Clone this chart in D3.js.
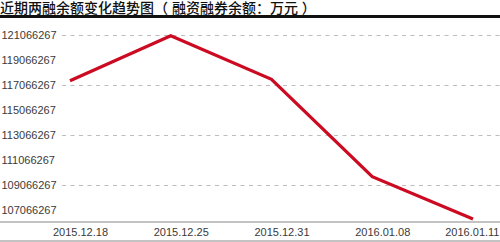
<!DOCTYPE html>
<html>
<head>
<meta charset="utf-8">
<script src="https://cdn.jsdelivr.net/npm/d3@7"></script>
<style>
  body { margin: 0; background: #fff; }
  text { font-family: "Liberation Sans", Arial, "Noto Sans CJK SC", sans-serif; }
</style>
</head>
<body>
<div id="chart"></div>
<script>
// data
var dates = ["2015.12.18", "2015.12.25", "2015.12.31", "2016.01.08", "2016.01.11"];
var balance = [117450000, 121050000, 117560000, 109770000, 106390000];
var yTicks = [121066267, 119066267, 117066267, 115066267, 113066267, 111066267, 109066267, 107066267];
var gridTicks = [121066267, 117066267, 113066267, 109066267];
var title = "近期两融余额变化趋势图（ 融资融券余额：万元 ）";

var width = 500, height = 242;

var svg = d3.select("#chart")
    .append("svg")
    .attr("width", width)
    .attr("height", height);

// title + thick rule below it
svg.append("text")
    .attr("x", 0)
    .attr("y", 12.5)
    .attr("font-size", 14)
    .attr("font-weight", 500)
    .attr("font-family", "'Noto Sans CJK SC', sans-serif")
    .attr("fill", "#111")
    .text(title);

svg.append("rect")
    .attr("x", 0)
    .attr("y", 15)
    .attr("width", width)
    .attr("height", 3)
    .attr("fill", "#111");

// scales
var x = d3.scalePoint()
    .domain(dates)
    .range([70, 473]);

var y = d3.scaleLinear()
    .domain([107066267, 121066267])
    .range([210.5, 35.5]);

// dashed grid lines
svg.append("g")
    .selectAll("line")
    .data(gridTicks)
    .enter()
    .append("line")
    .attr("x1", 62)
    .attr("x2", width)
    .attr("y1", function (d) { return y(d); })
    .attr("y2", function (d) { return y(d); })
    .attr("stroke", "#bdbdbd")
    .attr("stroke-width", 1.2)
    .attr("stroke-dasharray", "4,4.5");

// y labels
svg.append("g")
    .selectAll("text")
    .data(yTicks)
    .enter()
    .append("text")
    .attr("x", 1.5)
    .attr("y", function (d) { return y(d); })
    .attr("dy", "0.35em")
    .attr("font-size", 11)
    .attr("fill", "#3a3a3a")
    .text(function (d) { return d; });

// bottom axis
var xAxis = svg.append("g")
    .attr("transform", "translate(0,222)")
    .call(d3.axisBottom(x).tickSize(0).tickPadding(6));
xAxis.select(".domain").remove();
xAxis.selectAll("text")
    .attr("font-size", 11)
    .attr("fill", "#3a3a3a")
    .attr("dx", function (d, i) { return i == dates.length - 1 ? 0 : 10; })
    .attr("text-anchor", function (d, i) { return i == dates.length - 1 ? "end" : "middle"; })
    .attr("x", function (d, i) { return i == dates.length - 1 ? width - 1 - x(d) : 0; });

svg.append("line")
    .attr("x1", 0).attr("x2", width)
    .attr("y1", 222).attr("y2", 222)
    .attr("stroke", "#888")
    .attr("stroke-width", 1.2);

svg.append("line")
    .attr("x1", 0).attr("x2", width)
    .attr("y1", 241).attr("y2", 241)
    .attr("stroke", "#888")
    .attr("stroke-width", 1.2);

// the line
var line = d3.line()
    .x(function (d, i) { return x(dates[i]); })
    .y(function (d) { return y(d); });

svg.append("path")
    .datum(balance)
    .attr("d", line)
    .attr("fill", "none")
    .attr("stroke", "#cc0a22")
    .attr("stroke-width", 3.2)
    .attr("stroke-linejoin", "miter");
</script>
</body>
</html>
